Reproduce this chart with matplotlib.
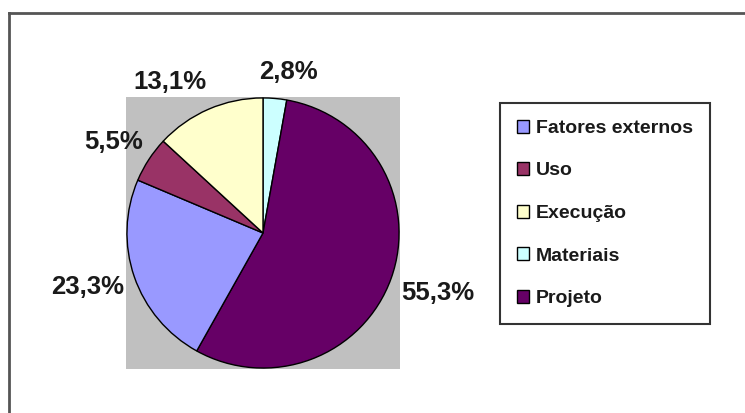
import matplotlib.pyplot as plt
from matplotlib.lines import Line2D

plt.rcParams['font.family'] = ['Liberation Sans', 'DejaVu Sans']

# slices in drawing order (clockwise from 12 o'clock)
names = ['Materiais', 'Projeto', 'Fatores externos', 'Uso', 'Execução']
values = [2.8, 55.3, 23.3, 5.5, 13.1]
labels = ['2,8%', '55,3%', '23,3%', '5,5%', '13,1%']
colors = ['#CCFFFF', '#660066', '#9999FF', '#993366', '#FFFFCC']
legend_order = ['Fatores externos', 'Uso', 'Execução', 'Materiais', 'Projeto']
# where each data label sits, in pie units (radius = 1)
label_pos = [(0.185, 1.19), (1.286, -0.443), (-1.286, -0.399),
             (-1.101, 0.673), (-0.687, 1.116)]

W, H = 745, 413
fig = plt.figure(figsize=(W / 100, H / 100), dpi=100)

# pie area (gray square)
ax = fig.add_axes([126 / W, (H - 369) / H, 274 / W, 272 / H])
wedges, _ = ax.pie(values, colors=colors, startangle=90, counterclock=False,
                   wedgeprops=dict(edgecolor='black', linewidth=1))
ax.set_frame_on(True)
ax.set_facecolor('#C0C0C0')
for s in ax.spines.values():
    s.set_visible(False)
ax.set_xticks([])
ax.set_yticks([])
ax.set_aspect('auto')
ax.set_xlim(-1.007, 1.007)
ax.set_ylim(-1.007, 1.007)

for (x, y), lab in zip(label_pos, labels):
    ax.text(x, y, lab, ha='center', va='center', fontsize=18.5,
            fontweight='bold', color='#1a1a1a', clip_on=False)

handles = [wedges[names.index(n)] for n in legend_order]
leg = fig.legend(handles, legend_order, loc='upper left',
                 bbox_to_anchor=(500 / W, 1 - 103 / H),
                 prop=dict(size=14, weight='bold'),
                 frameon=True, fancybox=False, edgecolor='black',
                 handlelength=0.65, handleheight=0.65, handletextpad=0.35,
                 labelspacing=1.3, borderpad=0.85, borderaxespad=0)
leg.get_frame().set_linewidth(1.5)
for t in leg.get_texts():
    t.set_color('#1a1a1a')

# outer chart frame
fig.add_artist(Line2D([8.5 / W, 1.0], [1 - 13 / H, 1 - 13 / H], color='#555555', lw=2))
fig.add_artist(Line2D([8.5 / W, 8.5 / W], [0, 1 - 13 / H], color='#555555', lw=2))

fig.savefig('out.png', dpi=100)
